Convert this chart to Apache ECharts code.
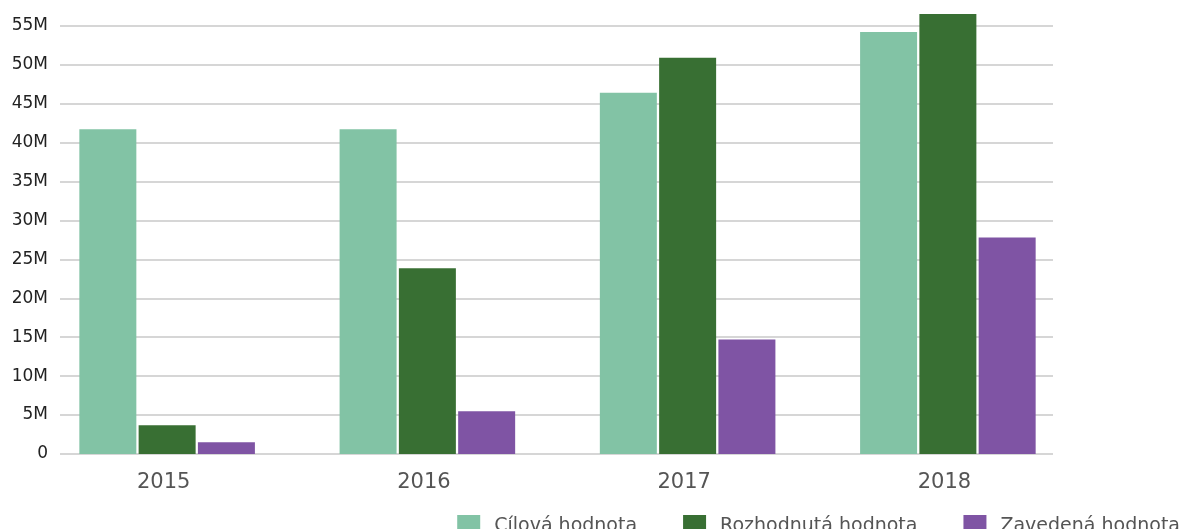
<!DOCTYPE html>
<html>
<head>
<meta charset="utf-8">
<script src="https://cdn.jsdelivr.net/npm/echarts@6/dist/echarts.min.js"></script>
<style>html,body{margin:0;padding:0;background:#fff}#c{width:1189px;height:529px}</style>
</head>
<body>
<div id="c"></div>
<script>
const categories = ['2015', '2016', '2017', '2018'];
const cilova = [41.7, 41.7, 46.4, 54.2];
const rozhodnuta = [3.7, 23.85, 50.9, 56.5];
const zavedena = [1.5, 5.5, 14.7, 27.8];
const seriesNames = ['Cílová hodnota', 'Rozhodnutá hodnota', 'Zavedená hodnota'];
const colors = ['#82c3a5', '#386f33', '#7f54a4'];

const font = '"DejaVu Sans", sans-serif';
const yMax = 58.3;
const gridColors = [];
for (let i = 0; i < 12; i++) gridColors.push('#c8c8c8');
gridColors.push('rgba(0,0,0,0)');

const chart = echarts.init(document.getElementById('c'));
const barCommon = { barWidth: 57, barGap: '4%', xAxisIndex: 1, yAxisIndex: 1 };
chart.setOption({
  animation: false,
  textStyle: { fontFamily: font },
  color: colors,
  grid: [
    { left: 60, right: 136, top: 0, bottom: 75 },
    { left: 37, right: 111, top: 0, bottom: 75 }
  ],
  legend: {
    right: 4, top: 510,
    itemWidth: 23, itemHeight: 23, itemGap: 46,
    icon: 'rect',
    textStyle: { fontSize: 19, color: '#555', fontFamily: font, padding: [0, 0, 0, 9] },
    data: seriesNames
  },
  xAxis: [
    { gridIndex: 0, type: 'value', min: 0, max: 1, show: false },
    {
      gridIndex: 1, type: 'category', data: categories,
      axisLine: { show: false }, axisTick: { show: false },
      axisLabel: { fontSize: 21, color: '#555', margin: 18, fontFamily: font, padding: [0, 7, 0, 0] }
    }
  ],
  yAxis: [
    {
      gridIndex: 0, type: 'value', min: 0, max: yMax, interval: 5,
      axisLine: { show: false }, axisTick: { show: false },
      splitLine: { lineStyle: { color: gridColors, width: 1.5 } },
      axisLabel: {
        fontSize: 17, color: '#222', margin: 12, fontFamily: font, showMaxLabel: false,
        padding: [0, 0, 5, 0],
        formatter: v => (v % 5 !== 0) ? '' : (v === 0 ? '0' : v + 'M')
      }
    },
    { gridIndex: 1, type: 'value', min: 0, max: yMax, interval: 5, show: false, splitLine: { show: false } }
  ],
  series: [
    Object.assign({ type: 'bar', name: seriesNames[0], data: cilova }, barCommon),
    Object.assign({ type: 'bar', name: seriesNames[1], data: rozhodnuta }, barCommon),
    Object.assign({ type: 'bar', name: seriesNames[2], data: zavedena }, barCommon)
  ]
});
</script>
</body>
</html>
